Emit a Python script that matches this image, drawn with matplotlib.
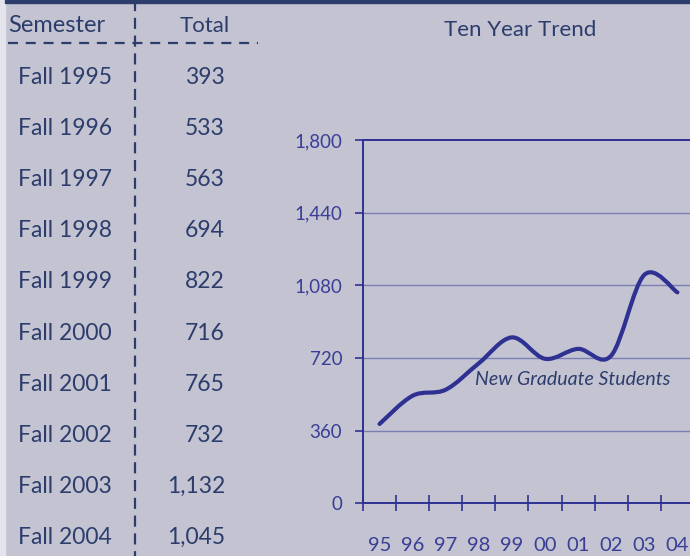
import matplotlib

matplotlib.use("Agg")
import matplotlib.pyplot as plt
from matplotlib.patches import PathPatch, Rectangle
from matplotlib.path import Path

# data
semesters = ["Fall 1995", "Fall 1996", "Fall 1997", "Fall 1998", "Fall 1999",
             "Fall 2000", "Fall 2001", "Fall 2002", "Fall 2003", "Fall 2004"]
totals = [393, 533, 563, 694, 822, 716, 765, 732, 1132, 1045]
year_labels = ["95", "96", "97", "98", "99", "00", "01", "02", "03", "04"]
y_ticks = [0, 360, 720, 1080, 1440, 1800]

BG = "#c3c3d2"
STRIP = "#e4e4ec"
NAVY = "#2c3d6c"
BLUE = "#2e3192"
TICK_TXT = "#3a3e96"
GRID = "#7b7fb6"
FONT = "Lato"

W, H = 690, 556
fig = plt.figure(figsize=(W / 100, H / 100), dpi=100, facecolor=BG)

# page decoration: light strip on the left, dark rule on top
fig.patches.append(Rectangle((0, 0), 5 / W, 1, transform=fig.transFigure,
                             color=STRIP, zorder=0))
fig.patches.append(Rectangle((5 / W, 1 - 2.5 / H), 1, 2.5 / H,
                             transform=fig.transFigure, color=NAVY, zorder=5))

# ---------------------------------------------------------------- table
tab = fig.add_axes([0, 0, 1, 1])
tab.set_xlim(0, W)
tab.set_ylim(H, 0)
tab.axis("off")
tab.patch.set_alpha(0)

tab.text(8, 26, "Semester", fontsize=17, color=NAVY, family=FONT,
         ha="left", va="center")
tab.text(205, 26, "Total", fontsize=16, color=NAVY, family=FONT,
         ha="center", va="center")
tab.plot([8, 258], [42.5, 42.5], color=NAVY, lw=1.6, ls=(0, (4.5, 3.5)))
tab.plot([135, 135], [0, H], color=NAVY, lw=1.6, ls=(0, (5, 3)))

for i, (sem, tot) in enumerate(zip(semesters, totals)):
    y = 77 + i * 51.2
    tab.text(18, y, sem, fontsize=16.5, color=NAVY, family=FONT,
             ha="left", va="center")
    tab.text(225, y, f"{tot:,}", fontsize=16.5, color=NAVY, family=FONT,
             ha="right", va="center")

tab.text(520, 30, "Ten Year Trend", fontsize=16, color=NAVY, family=FONT,
         ha="center", va="center")

# ---------------------------------------------------------------- chart
ax = fig.add_axes([363 / W, 52.7 / H, 327 / W, 363.3 / H])
ax.patch.set_alpha(0)
ax.set_xlim(-0.5, 9.38)
ax.set_ylim(0, 1800)

for v in y_ticks[1:-1]:
    ax.axhline(v, color=GRID, lw=1.0, zorder=1)

for side in ("left", "bottom", "top"):
    ax.spines[side].set_color(BLUE)
    ax.spines[side].set_linewidth(1.4)
ax.spines["right"].set_visible(False)

ax.set_yticks(y_ticks)
ax.set_yticklabels([f"{v:,}" for v in y_ticks])
ax.tick_params(axis="y", direction="out", length=6, width=1.2, color=BLUE,
               labelcolor=TICK_TXT, labelsize=13.5, pad=9)

xs = list(range(len(totals)))
ax.set_xticks(xs)
ax.set_xticklabels(year_labels)
ax.set_xticks([x - 0.5 for x in xs], minor=True)
ax.tick_params(axis="x", which="major", length=0, labelcolor=TICK_TXT,
               labelsize=14.5, pad=24)
ax.tick_params(axis="x", which="minor", direction="inout", length=12,
               width=1.2, color=BLUE)
for lab in ax.get_xticklabels() + ax.get_yticklabels():
    lab.set_family(FONT)

# smoothed line through the data points (cubic Bezier segments)
pts = list(zip(xs, totals))
verts = [pts[0]]
codes = [Path.MOVETO]
for i in range(len(pts) - 1):
    p0 = pts[max(i - 1, 0)]
    p1 = pts[i]
    p2 = pts[i + 1]
    p3 = pts[min(i + 2, len(pts) - 1)]
    c1 = (p1[0] + (p2[0] - p0[0]) / 6, p1[1] + (p2[1] - p0[1]) / 6)
    c2 = (p2[0] - (p3[0] - p1[0]) / 6, p2[1] - (p3[1] - p1[1]) / 6)
    verts += [c1, c2, p2]
    codes += [Path.CURVE4] * 3
ax.add_patch(PathPatch(Path(verts, codes), fill=False, edgecolor=BLUE,
                       lw=3.0, capstyle="round", joinstyle="round", zorder=3))

ax.text(2.88, 611, "New Graduate Students", fontsize=14, color=NAVY,
        family=FONT, style="italic", ha="left", va="center")

fig.savefig("out.png", dpi=100, facecolor=BG)
